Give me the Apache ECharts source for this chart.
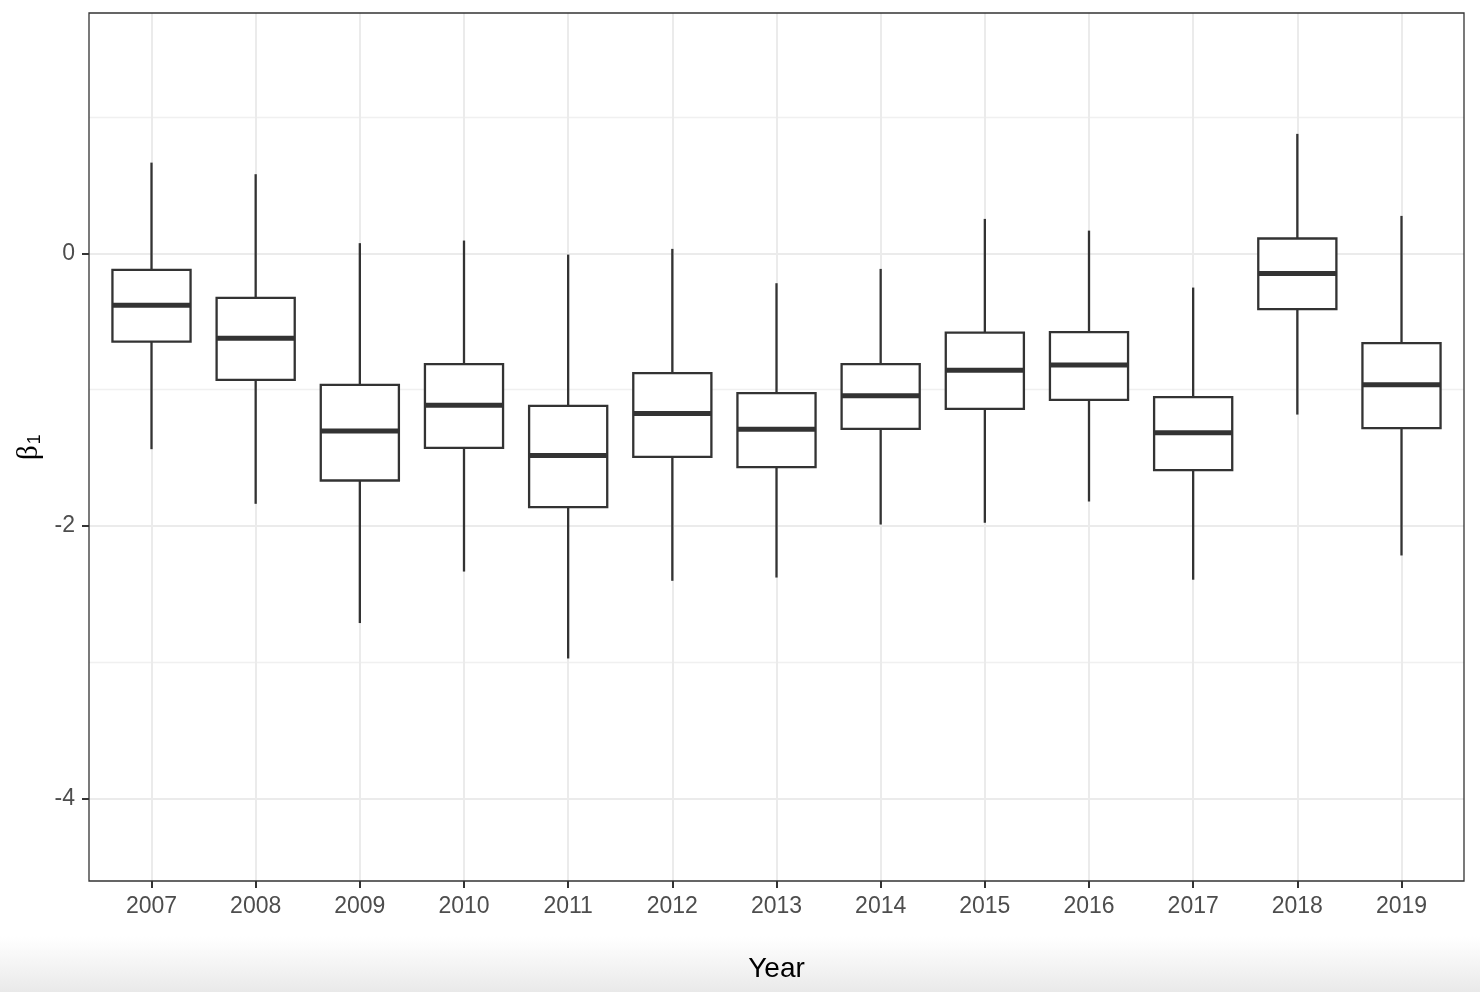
<!DOCTYPE html>
<html>
<head>
<meta charset="utf-8">
<script src="https://cdn.jsdelivr.net/npm/echarts@6.0.0/dist/echarts.min.js"></script>
<style>
  html, body { margin: 0; padding: 0; background: #fff; }
  #chart { width: 1480px; height: 992px; }
</style>
</head>
<body>
<div id="chart"></div>
<script>
const years = ['2007', '2008', '2009', '2010', '2011', '2012', '2013',
  '2014', '2015', '2016', '2017', '2018', '2019'];
const lowerWhisker = [-1.437, -1.838, -2.713, -2.335, -2.973, -2.403, -2.379,
  -1.990, -1.977, -1.821, -2.395, -1.183, -2.217];
const q1 = [-0.647, -0.928, -1.667, -1.427, -1.862, -1.493, -1.569,
  -1.288, -1.141, -1.075, -1.591, -0.409, -1.283];
const median = [-0.380, -0.622, -1.304, -1.114, -1.483, -1.175, -1.290,
  -1.045, -0.857, -0.820, -1.317, -0.148, -0.965];
const q3 = [-0.121, -0.326, -0.965, -0.813, -1.119, -0.879, -1.026,
  -0.813, -0.581, -0.578, -1.055, 0.109, -0.659];
const upperWhisker = [0.666, 0.581, 0.075, 0.094, -0.009, 0.033, -0.219,
  -0.114, 0.253, 0.167, -0.251, 0.877, 0.275];
const yMajorTicks = [-4, -2, 0];
const yMinorTicks = [-3, -1, 1];

const xPositions = years.map((_, i) => i + 1);
const font = '"Liberation Sans", Arial, Helvetica, sans-serif';
const ink = '#333333';

const chart = echarts.init(document.getElementById('chart'), null, { renderer: 'canvas' });

const boxData = years.map((_, i) =>
  [xPositions[i], lowerWhisker[i], q1[i], median[i], q3[i], upperWhisker[i]]);

function renderBox(params, api) {
  const x = api.value(0);
  const half = api.size([1, 0])[0] * 0.75 / 2;
  const pMin = api.coord([x, api.value(1)]);
  const pQ1 = api.coord([x, api.value(2)]);
  const pMed = api.coord([x, api.value(3)]);
  const pQ3 = api.coord([x, api.value(4)]);
  const pMax = api.coord([x, api.value(5)]);
  const thin = { stroke: ink, lineWidth: 2.3 };
  return {
    type: 'group',
    children: [
      { type: 'line', shape: { x1: pMax[0], y1: pMax[1], x2: pQ3[0], y2: pQ3[1] }, style: thin },
      { type: 'line', shape: { x1: pQ1[0], y1: pQ1[1], x2: pMin[0], y2: pMin[1] }, style: thin },
      {
        type: 'rect',
        shape: { x: pQ3[0] - half, y: pQ3[1], width: half * 2, height: pQ1[1] - pQ3[1] },
        style: { fill: '#ffffff', stroke: ink, lineWidth: 2.3 }
      },
      {
        type: 'line',
        shape: { x1: pMed[0] - half, y1: pMed[1], x2: pMed[0] + half, y2: pMed[1] },
        style: { stroke: ink, lineWidth: 5 }
      }
    ]
  };
}

const option = {
  backgroundColor: '#ffffff',
  animation: false,
  textStyle: { fontFamily: font },
  graphic: [{
    type: 'rect',
    left: 0,
    bottom: 0,
    z: -10,
    silent: true,
    shape: { width: 1480, height: 56 },
    style: {
      fill: new echarts.graphic.LinearGradient(0, 0, 0, 1, [
        { offset: 0, color: 'rgba(235,235,235,0)' },
        { offset: 1, color: '#e9e9e9' }
      ])
    }
  }],
  grid: {
    left: 89,
    top: 13,
    width: 1375,
    height: 868,
    show: true,
    z: 1,
    backgroundColor: 'transparent',
    borderColor: ink,
    borderWidth: 1.3
  },
  xAxis: {
    type: 'value',
    min: 0.4,
    max: 13.6,
    axisLine: { show: false, onZero: false },
    axisTick: { customValues: xPositions, length: 7, lineStyle: { color: ink, width: 2 } },
    axisLabel: {
      customValues: xPositions,
      formatter: v => years[Math.round(v) - 1],
      fontSize: 23,
      color: '#4d4d4d',
      margin: 14,
      fontFamily: font
    },
    splitLine: { show: true, lineStyle: { color: '#ebebeb', width: 2 } },
    name: 'Year',
    nameLocation: 'middle',
    nameGap: 74,
    nameTextStyle: { fontSize: 28, color: '#000000', fontFamily: font }
  },
  yAxis: [
    {
      type: 'value',
      min: -4.606,
      max: 1.764,
      axisLine: { show: false, onZero: false },
      axisTick: { customValues: yMajorTicks, length: 7, lineStyle: { color: ink, width: 2 } },
      axisLabel: { customValues: yMajorTicks, fontSize: 23, color: '#4d4d4d', margin: 14, fontFamily: font },
      splitLine: { show: true, lineStyle: { color: '#ebebeb', width: 2 } },
      name: '{b|β}{s|1}',
      nameLocation: 'middle',
      nameGap: 45,
      nameTextStyle: {
        color: '#000000',
        rich: {
          b: { fontSize: 29, fontFamily: '"Liberation Serif", "DejaVu Serif", serif', color: '#000000' },
          s: { fontSize: 18, fontFamily: font, color: '#000000', verticalAlign: 'bottom', padding: [8, 0, 0, 1] }
        }
      }
    },
    {
      type: 'value',
      min: -4.606,
      max: 1.764,
      position: 'left',
      axisLine: { show: false, onZero: false },
      axisTick: { show: false, customValues: yMinorTicks },
      axisLabel: { show: false },
      splitLine: { show: true, lineStyle: { color: '#f0f0f0', width: 1.3 } }
    }
  ],
  series: [{
    type: 'custom',
    renderItem: renderBox,
    data: boxData,
    encode: { x: 0, y: [1, 2, 3, 4, 5] },
    z: 3
  }]
};

chart.setOption(option);
</script>
</body>
</html>
